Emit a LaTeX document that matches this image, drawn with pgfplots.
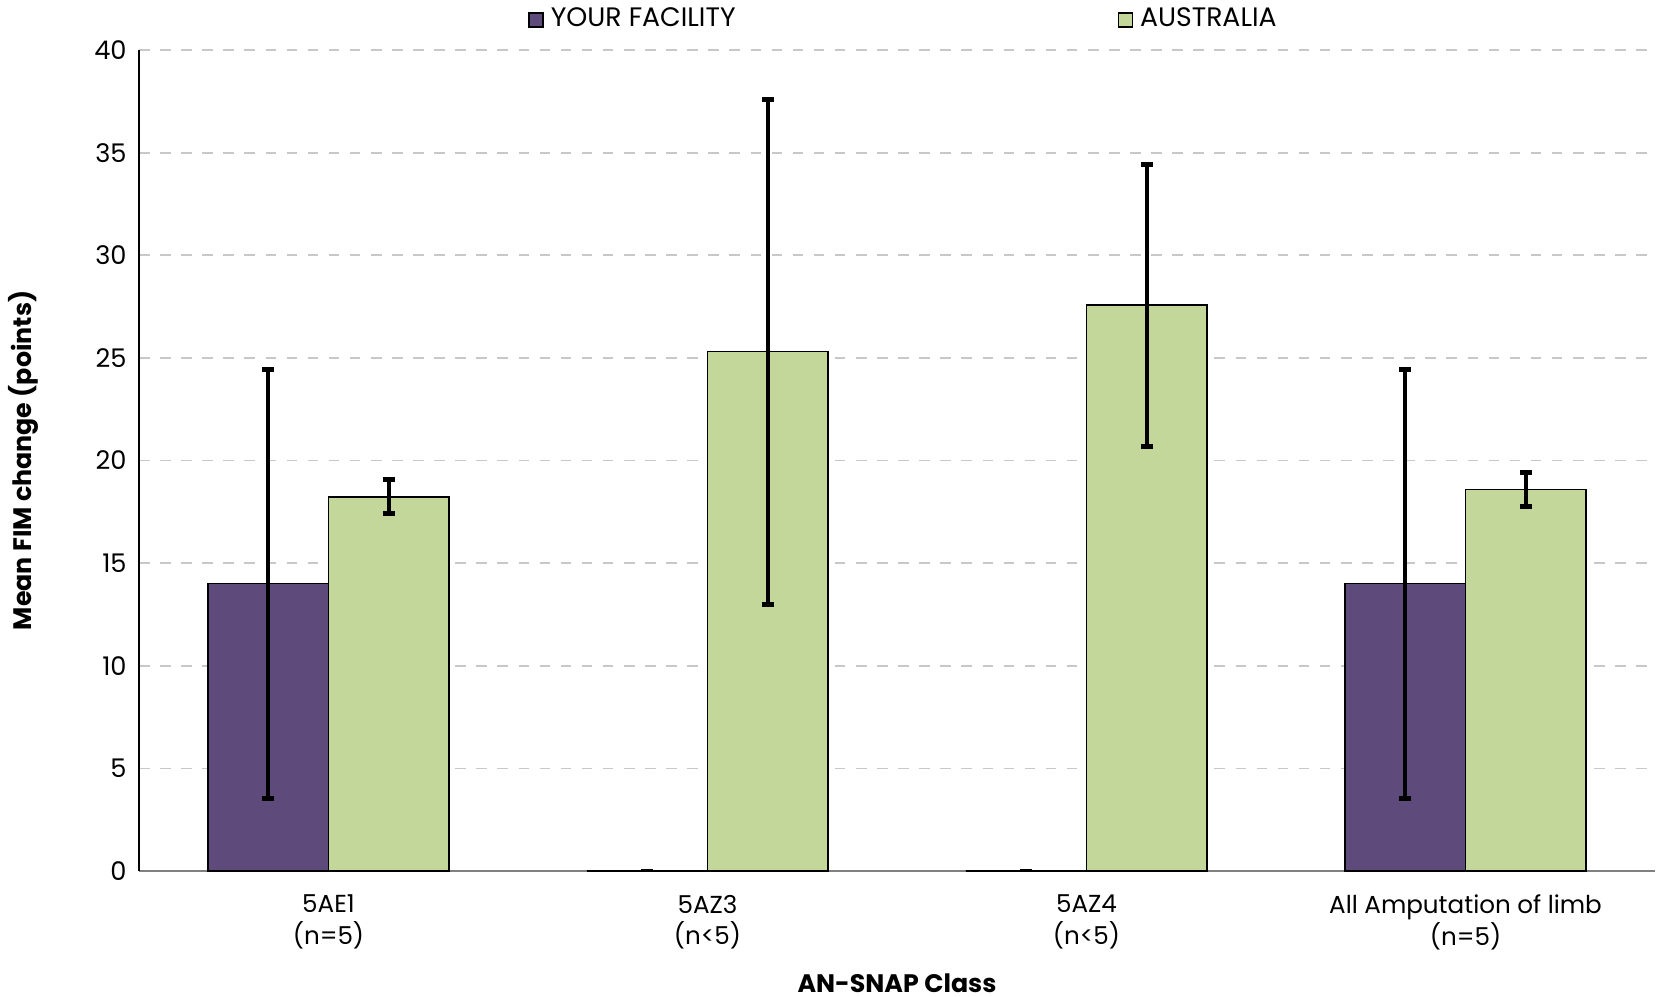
\documentclass[border=0pt]{standalone}
\usepackage{pgfplots}
\pgfplotsset{compat=1.18}
\usepackage{pgfplotstable}
\usepackage{fontspec}
\setmainfont{Poppins}
\definecolor{facil}{HTML}{5F4B7B}
\definecolor{aus}{HTML}{C4D79B}
\definecolor{gridc}{HTML}{C8C8C8}
\pgfplotstableread{
x y e
0 14.0 10.45
1 0 0
2 0 0
3 14.0 10.45
}\facility
\pgfplotstableread{
x y e
0 18.23 0.83
1 25.30 12.3
2 27.57 6.87
3 18.59 0.83
}\australia
\begin{document}
\begin{tikzpicture}
\useasboundingbox (-13.9mm,-12.5mm) rectangle (152.2mm,87.1mm);
\begin{axis}[
  at={(0,0)}, anchor=south west,
  scale only axis,
  width=151.6mm, height=82.1mm,
  ybar, bar width=0.318,
  xmin=-0.5, xmax=3.5, ymin=0, ymax=40,
  ytick={0,5,...,40},
  xtick=data,
  xticklabels={{5AE1\\(n=5)},{5AZ3\\(n<5)},{5AZ4\\(n<5)},{All Amputation of limb\\(n=5)}},
  x tick label style={align=center, font=\fontsize{7}{9}\selectfont, yshift=-1.15mm},
  y tick label style={font=\fontsize{7.3}{9}\selectfont},
  /pgf/number format/assume math mode=true,
  major tick length=0pt,
  ymajorgrids,
  grid style={gridc, dashed, line width=0.5pt},
  axis x line*=bottom, axis y line*=left,
  x axis line style={gray, line width=0.6pt, -},
  y axis line style={black, line width=0.6pt, -},
  ylabel={\textbf{Mean FIM change (points)}},
  xlabel={\textbf{AN-SNAP Class}},
  label style={font=\fontsize{7.2}{9}\selectfont},
  ylabel style={yshift=3.2mm},
  xlabel style={yshift=-1.1mm, inner sep=0pt},
  legend style={at={(0.5,1)}, anchor=south, yshift=0.3mm, xshift=0.9mm, draw=none, fill=none,
    legend columns=2, font=\fontsize{7.6}{9}\selectfont,
    /tikz/every even column/.append style={column sep=37.5mm}},
  legend image code/.code={\draw[#1, draw=black, line width=0.4pt] (0cm,-0.7mm) rectangle (1.4mm,0.7mm);},
  error bars/y dir=both, error bars/y explicit,
  error bars/error bar style={black, line width=1.1pt},
  error bars/error mark options={rotate=90, black, line width=1.4pt, mark size=0.6mm},
]
\addplot[fill=facil, draw=black, line width=0.4pt, bar shift=-0.159] table[x=x, y=y, y error=e] {\facility};
\addplot[fill=aus, draw=black, line width=0.4pt, bar shift=0.159] table[x=x, y=y, y error=e] {\australia};
\legend{YOUR FACILITY, AUSTRALIA}
\end{axis}
\end{tikzpicture}
\end{document}
